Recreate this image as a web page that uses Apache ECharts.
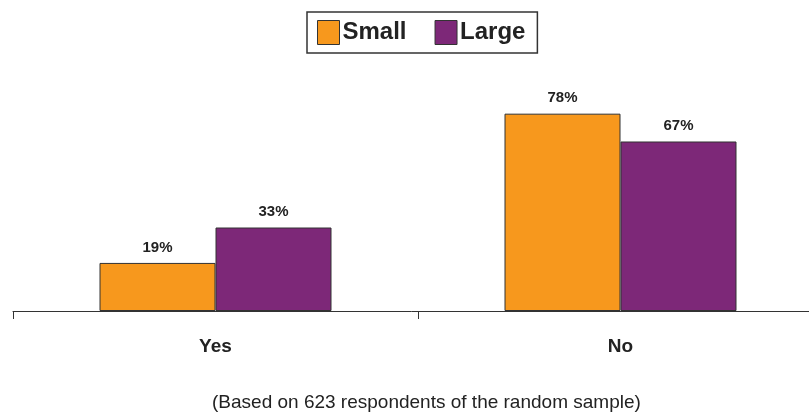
<!DOCTYPE html>
<html>
<head>
<meta charset="utf-8">
<script src="https://cdn.jsdelivr.net/npm/echarts@6/dist/echarts.min.js"></script>
<style>
  html, body { margin: 0; padding: 0; background: #fff; }
  #chart { width: 809px; height: 413px; }
</style>
</head>
<body>
<div id="chart"></div>
<script>
var categories = ['Yes', 'No'];
var smallValues = [19, 78];
var largeValues = [33, 67];
var seriesNames = ['Small', 'Large'];
var footnote = '(Based on 623 respondents of the random sample)';

var font = '"Liberation Sans Narrow", "Liberation Sans", Arial, sans-serif';

var chart = echarts.init(document.getElementById('chart'));

function barSeries(name, data, color) {
   return {
      name: name,
      type: 'bar',
      data: data,
      barWidth: 116,
      barGap: '0%',
      itemStyle: { color: color, borderColor: '#333', borderWidth: 1 },
      label: {
         show: true,
         position: 'top',
         distance: 8,
         formatter: '{c}%',
         fontFamily: font,
         fontWeight: 'bold',
         fontSize: 15,
         color: '#222'
      }
   };
}

var option = {
   animation: false,
   legend: {
      top: 12,
      left: 307,
      data: seriesNames,
      borderColor: '#333',
      borderWidth: 1.5,
      padding: [8, 12, 8, 10],
      itemWidth: 22,
      itemHeight: 24,
      itemGap: 28,
      icon: 'rect',
      itemStyle: { borderColor: '#333', borderWidth: 1 },
      textStyle: { fontFamily: font, fontWeight: 'bold', fontSize: 24, color: '#222', padding: [0, 0, 0, -2] }
   },
   title: {
      text: footnote,
      top: 388,
      left: 207,
      textStyle: { fontFamily: font, fontWeight: 'normal', fontSize: 19, color: '#222' }
   },
   grid: { left: 13, right: -14, top: 58, bottom: 102, containLabel: false, outerBoundsMode: 'none' },
   xAxis: {
      type: 'category',
      data: categories,
      axisLine: { lineStyle: { color: '#333', width: 1 } },
      axisTick: { show: true, length: 8, lineStyle: { color: '#333' } },
      axisLabel: { margin: 26, fontFamily: font, fontWeight: 'bold', fontSize: 19, color: '#222' }
   },
   yAxis: {
      type: 'value',
      min: 0,
      max: 100,
      show: false,
      splitLine: { show: false }
   },
   series: [
      barSeries(seriesNames[0], smallValues, '#F7981D'),
      barSeries(seriesNames[1], largeValues, '#7D2878')
   ]
};
chart.setOption(option);
</script>
</body>
</html>
